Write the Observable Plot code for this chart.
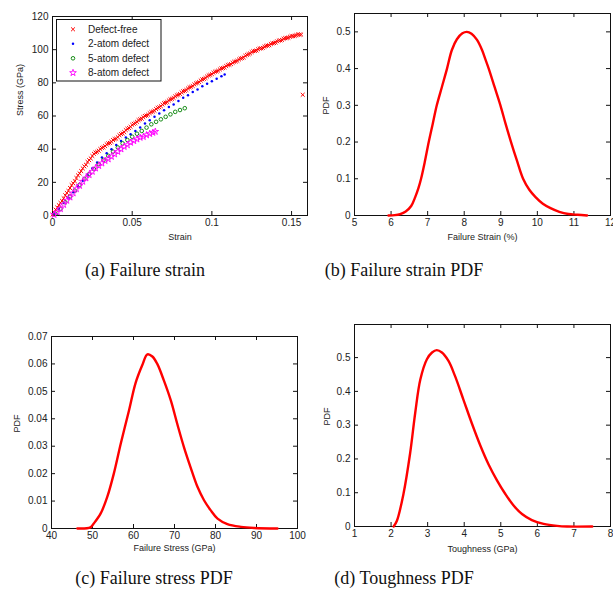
<!DOCTYPE html>
<html><head><meta charset="utf-8">
<script src="https://cdn.jsdelivr.net/npm/d3@7"></script>
<script src="https://cdn.jsdelivr.net/npm/@observablehq/plot@0.6"></script>
<style>
body{margin:0;background:#fff;}
#wrap{position:relative;width:613px;height:591px;overflow:hidden;background:#fff;}
.panel{position:absolute;}
.panel svg{overflow:visible;}
.cap{position:absolute;font-family:"Liberation Serif","Times New Roman",serif;font-size:18px;color:#111;white-space:nowrap;transform:translate(-50%,-50%);}
</style></head>
<body><div id="wrap"></div>
<script>
// ---------- Panel (a): stress-strain data ----------
const seriesNames = ["Defect-free", "2-atom defect", "5-atom defect", "8-atom defect"];
const seriesColors = ["#ff0000", "#0000ff", "#008000", "#ff00ff"];

const defectFreeStrain = [0.000,0.002,0.004,0.006,0.008,0.010,0.012,0.014,0.016,0.018,0.020,0.022,0.024,0.026,0.028,0.030,0.032,0.034,0.036,0.038,0.040,0.042,0.044,0.046,0.048,0.050,0.052,0.054,0.056,0.058,0.060,0.062,0.064,0.066,0.068,0.070,0.072,0.074,0.076,0.078,0.080,0.082,0.084,0.086,0.088,0.090,0.092,0.094,0.096,0.098,0.100,0.102,0.104,0.106,0.108,0.110,0.112,0.114,0.116,0.118,0.120,0.122,0.124,0.126,0.128,0.130,0.132,0.134,0.136,0.138,0.140,0.142,0.144,0.146,0.148,0.150,0.152,0.154,0.156,0.157,
  0.001,0.003,0.005,0.007,0.009,0.011,0.013,0.015,0.017,0.019,0.021,0.023,0.025,0.027,0.029,0.031,0.033,0.035,0.037,0.039,0.041,0.043,0.045,0.047,0.049,0.051,0.053,0.055,0.057,0.059,0.061,0.063,0.065,0.067,0.069,0.071,0.073,0.075,0.077,0.079,0.081,0.083,0.085,0.087,0.089,0.091,0.093,0.095,0.097,0.099,0.101,0.103,0.105,0.107,0.109,0.111,0.113,0.115,0.117,0.119,0.121,0.123,0.125,0.127,0.129,0.131,0.133,0.135,0.137,0.139,0.141,0.143,0.145,0.147,0.149,0.151,0.153,0.155];
const defectFreeStress = [0.5,3.5,6.2,8.8,12.2,14.8,18.3,20.7,24.2,26.8,29.6,32.3,34.4,37.2,38.4,40.1,41.1,42.9,43.8,45.5,46.3,48.4,49.5,51.5,52.8,54.7,55.7,57.5,58.4,60.0,60.8,62.4,63.2,64.9,65.9,67.7,68.5,70.1,70.9,72.5,73.3,74.9,75.7,77.3,78.1,79.7,80.5,82.1,82.9,84.5,85.3,86.7,87.3,88.7,89.3,90.7,91.3,92.7,93.3,94.7,95.3,96.9,97.7,99.1,99.5,100.7,101.1,102.3,102.7,103.9,104.3,105.5,105.9,107.0,107.2,108.2,108.3,109.2,109.1,72.8,
  2.0,4.8,7.6,10.4,13.6,16.6,19.4,22.6,25.4,28.4,30.6,33.4,35.9,38.0,39.1,40.8,41.9,43.5,44.5,46.1,47.2,49.1,50.3,52.3,53.5,55.3,56.5,58.0,59.3,60.3,61.7,62.7,64.2,65.3,66.9,68.0,69.4,70.4,71.8,72.8,74.2,75.2,76.6,77.6,79.0,80.0,81.4,82.4,83.8,84.8,86.1,86.9,88.1,88.9,90.1,90.9,92.1,92.9,94.1,94.9,96.3,97.3,98.5,99.2,100.2,100.8,101.8,102.4,103.4,104.0,105.0,105.6,106.6,107.0,107.8,108.1,108.8,109.0];

const atom2Strain = [0.001,0.004,0.007,0.010,0.013,0.016,0.019,0.022,0.025,0.028,0.031,0.034,0.037,0.040,0.043,0.046,0.049,0.052,0.055,0.058,0.061,0.064,0.067,0.070,0.073,0.076,0.079,0.082,0.085,0.088,0.091,0.094,0.097,0.100,0.103,0.106,0.108];
const atom2Stress = [1,4,7.5,10.5,14,17.5,21,24.5,28.5,32,35,37.5,40,42.5,45,47,49,51,53,55.5,57.5,59.5,61.5,63.5,65.5,67,69,71,72.5,74.5,76,78,79.5,81,82.5,84,85];

const atom5Strain = [0.002,0.005,0.008,0.011,0.014,0.017,0.020,0.023,0.026,0.029,0.032,0.035,0.038,0.041,0.044,0.047,0.050,0.053,0.056,0.059,0.062,0.065,0.068,0.071,0.074,0.077,0.080,0.083];
const atom5Stress = [1,4,8,11.5,15,18.5,22,25,28,31,33.5,36,38.5,41,43.5,45.5,47.5,49.3,51,53,55,56.5,58,59.5,61,62.5,63.6,64.7];

const atom8Strain = [0.001,0.003,0.005,0.007,0.009,0.011,0.013,0.015,0.017,0.019,0.021,0.023,0.025,0.027,0.029,0.031,0.033,0.035,0.037,0.039,0.041,0.043,0.045,0.047,0.049,0.051,0.053,0.055,0.057,0.059,0.061,0.063,0.0645];
const atom8Stress = [0.5,2,4,6.5,9,11,13.5,16,18,20.5,22.5,24.5,26.5,28.5,30,31.5,33,34,35.5,37,38.5,40,41.5,42.5,44,45,46,47,47.5,48.5,49.3,50,50.6];

// ---------- Panel (b): failure strain PDF ----------
const failureStrain = [5.93,6.1,6.25,6.4,6.55,6.66,6.75,6.82,6.92,7.03,7.14,7.25,7.39,7.53,7.66,7.8,7.95,8.07,8.2,8.35,8.49,8.58,8.67,8.83,8.99,9.13,9.28,9.44,9.61,9.78,9.95,10.15,10.36,10.6,10.85,11.1,11.36];
const failureStrainPdf = [0,0.001,0.004,0.011,0.026,0.05,0.075,0.1,0.145,0.2,0.25,0.3,0.35,0.4,0.45,0.48,0.496,0.5,0.495,0.478,0.45,0.425,0.4,0.35,0.3,0.25,0.2,0.15,0.1,0.07,0.05,0.032,0.02,0.01,0.004,0.002,0];

// ---------- Panel (c): failure stress PDF ----------
const failureStress = [46.3,49.5,50.3,52,53.6,55.2,56.9,58.9,60.5,62.1,63.4,64.6,65.8,67.4,69.1,70.7,72.3,73.9,75.6,77.2,78.8,80.5,82.9,86.2,89.4,95.1];
const failureStressPdf = [0,0.0004,0.0018,0.0055,0.0115,0.02,0.031,0.043,0.053,0.0594,0.0635,0.0627,0.060,0.054,0.0467,0.038,0.0297,0.0224,0.0152,0.0103,0.0067,0.0036,0.0016,0.0006,0.0002,0];

// ---------- Panel (d): toughness PDF ----------
const toughness = [2.07,2.16,2.34,2.52,2.66,2.8,2.98,3.12,3.25,3.39,3.57,3.75,3.98,4.21,4.44,4.67,4.9,5.12,5.35,5.58,5.85,6.17,6.54,6.81,7.5];
const toughnessPdf = [0,0.017,0.097,0.216,0.336,0.435,0.495,0.515,0.522,0.515,0.49,0.445,0.375,0.305,0.24,0.183,0.136,0.097,0.062,0.037,0.019,0.008,0.002,0,0];

// ---------- Tick values & labels ----------
const aXTicks = [0, 0.05, 0.1, 0.15], aYTicks = [0,20,40,60,80,100,120];
const bXTicks = [5,6,7,8,9,10,11,12], bYTicks = [0,0.1,0.2,0.3,0.4,0.5];
const cXTicks = [40,50,60,70,80,90,100], cYTicks = [0,0.01,0.02,0.03,0.04,0.05,0.06,0.07];
const dXTicks = [1,2,3,4,5,6,7,8], dYTicks = [0,0.1,0.2,0.3,0.4,0.5];
const captions = ["(a) Failure strain", "(b) Failure strain PDF", "(c) Failure stress PDF", "(d) Toughness PDF"];

const zip = (xs, ys) => xs.map((x, i) => ({x, y: ys[i]}));
const fmt = d => String(d);

function panel(o) {
  const iw = o.width - o.ml - o.mr, ih = o.height - o.mt - o.mb, tk = 4;
  return Plot.plot({
    width: o.width, height: o.height,
    marginLeft: o.ml, marginRight: o.mr, marginTop: o.mt, marginBottom: o.mb,
    style: {fontFamily: "'Liberation Sans', Arial, sans-serif", fontSize: "10px", color: "#222", background: "transparent"},
    x: {domain: o.xDomain},
    y: {domain: o.yDomain},
    marks: [
      Plot.frame({stroke: "#111"}),
      Plot.axisX({ticks: o.xTicks, tickSize: 0, tickPadding: 3, tickFormat: fmt, label: null, fontSize: 10}),
      Plot.axisY({ticks: o.yTicks, tickSize: 0, tickPadding: 4, tickFormat: fmt, label: null, fontSize: 10}),
      Plot.tickX(o.xTicks, {x: d => d, insetTop: ih - tk, stroke: "#111"}),
      Plot.tickX(o.xTicks, {x: d => d, insetBottom: ih - tk, stroke: "#111"}),
      Plot.tickY(o.yTicks, {y: d => d, insetRight: iw - tk, stroke: "#111"}),
      Plot.tickY(o.yTicks, {y: d => d, insetLeft: iw - tk, stroke: "#111"}),
      Plot.text([o.xLabel], {text: d => d, frameAnchor: "bottom", dy: o.xLabelDy, lineAnchor: "middle", fontSize: 9, fill: "#222"}),
      Plot.text([o.yLabel], {text: d => d, frameAnchor: "left", rotate: -90, dx: o.yLabelDx, fontSize: 9, fill: "#222"}),
      ...o.marks
    ]
  });
}

const pdfLine = (xs, ys) => Plot.line(zip(xs, ys), {x: "x", y: "y", stroke: "#ff0000", strokeWidth: 2.4, curve: "catmull-rom"});

const seriesDefs = [
  {sx: defectFreeStrain, sy: defectFreeStress, symbol: "times", r: 1.9, fill: "none", stroke: seriesColors[0], sw: 1},
  {sx: atom2Strain, sy: atom2Stress, symbol: "circle", r: 1.25, fill: seriesColors[1], stroke: "none", sw: 0},
  {sx: atom5Strain, sy: atom5Stress, symbol: "circle", r: 1.8, fill: "none", stroke: seriesColors[2], sw: 0.9},
  {sx: atom8Strain, sy: atom8Stress, symbol: "star", r: 2.1, fill: "none", stroke: seriesColors[3], sw: 0.9}
];

const wrap = document.getElementById("wrap");
function place(node, left, top) {
  const d = document.createElement("div");
  d.className = "panel"; d.style.left = left + "px"; d.style.top = top + "px";
  d.appendChild(node); wrap.appendChild(d);
}

place(panel({
  width: 310, height: 245, ml: 52, mr: 3, mt: 16, mb: 30,
  xDomain: [0, 0.16], yDomain: [0, 120], xTicks: aXTicks, yTicks: aYTicks,
  xLabel: "Strain", yLabel: "Stress (GPa)", xLabelDy: 21.5, yLabelDx: -32,
  marks: seriesDefs.map(s => Plot.dot(zip(s.sx, s.sy), {x: "x", y: "y", symbol: s.symbol, r: s.r, fill: s.fill, stroke: s.stroke, strokeWidth: s.sw}))
}), 0, 0);

place(panel({
  width: 303, height: 245, ml: 44, mr: 3, mt: 13, mb: 30,
  xDomain: [5, 12], yDomain: [0, 0.55], xTicks: bXTicks, yTicks: bYTicks,
  xLabel: "Failure Strain (%)", yLabel: "PDF", xLabelDy: 21.5, yLabelDx: -28,
  marks: [pdfLine(failureStrain, failureStrainPdf)]
}), 310, 0);

place(panel({
  width: 310, height: 260, ml: 51, mr: 13, mt: 36, mb: 32,
  xDomain: [40, 100], yDomain: [0, 0.07], xTicks: cXTicks, yTicks: cYTicks,
  xLabel: "Failure Stress (GPa)", yLabel: "PDF", xLabelDy: 20, yLabelDx: -34,
  marks: [pdfLine(failureStress, failureStressPdf)]
}), 0, 300);

place(panel({
  width: 303, height: 260, ml: 44, mr: 3, mt: 24, mb: 34,
  xDomain: [1, 8], yDomain: [0, 0.598], xTicks: dXTicks, yTicks: dYTicks,
  xLabel: "Toughness (GPa)", yLabel: "PDF", xLabelDy: 22.5, yLabelDx: -27.5,
  marks: [pdfLine(toughness, toughnessPdf)]
}), 310, 300);

// Legend for panel (a)
const ns = "http://www.w3.org/2000/svg";
const lg = document.createElementNS(ns, "svg");
lg.setAttribute("width", 106); lg.setAttribute("height", 63);
lg.style.cssText = "position:absolute;left:55.5px;top:18.8px;overflow:visible";
const box = document.createElementNS(ns, "rect");
Object.entries({x: 0.5, y: 0.5, width: 104.5, height: 61.5, fill: "#fff", stroke: "#111", "stroke-width": 1}).forEach(([k, v]) => box.setAttribute(k, v));
lg.appendChild(box);
const symMap = {times: d3.symbolTimes, circle: d3.symbolCircle, star: d3.symbolStar};
seriesDefs.forEach((s, i) => {
  const yy = 10.3 + i * 14.5;
  const p = document.createElementNS(ns, "path");
  p.setAttribute("d", d3.symbol(symMap[s.symbol], Math.PI * s.r * s.r)());
  p.setAttribute("transform", `translate(17,${yy})`);
  p.setAttribute("fill", s.fill); p.setAttribute("stroke", s.stroke); p.setAttribute("stroke-width", s.sw);
  lg.appendChild(p);
  const t = document.createElementNS(ns, "text");
  t.setAttribute("x", 32); t.setAttribute("y", yy); t.setAttribute("dy", "0.35em");
  t.setAttribute("font-family", "'Liberation Sans', Arial, sans-serif"); t.setAttribute("font-size", "10px"); t.setAttribute("fill", "#222");
  t.textContent = seriesNames[i];
  lg.appendChild(t);
});
wrap.appendChild(lg);

// Captions
const capPos = [[145, 270], [404, 270], [154, 578], [404, 578]];
captions.forEach((c, i) => {
  const d = document.createElement("div");
  d.className = "cap"; d.textContent = c;
  d.style.left = capPos[i][0] + "px"; d.style.top = capPos[i][1] + "px";
  wrap.appendChild(d);
});
</script></body></html>
